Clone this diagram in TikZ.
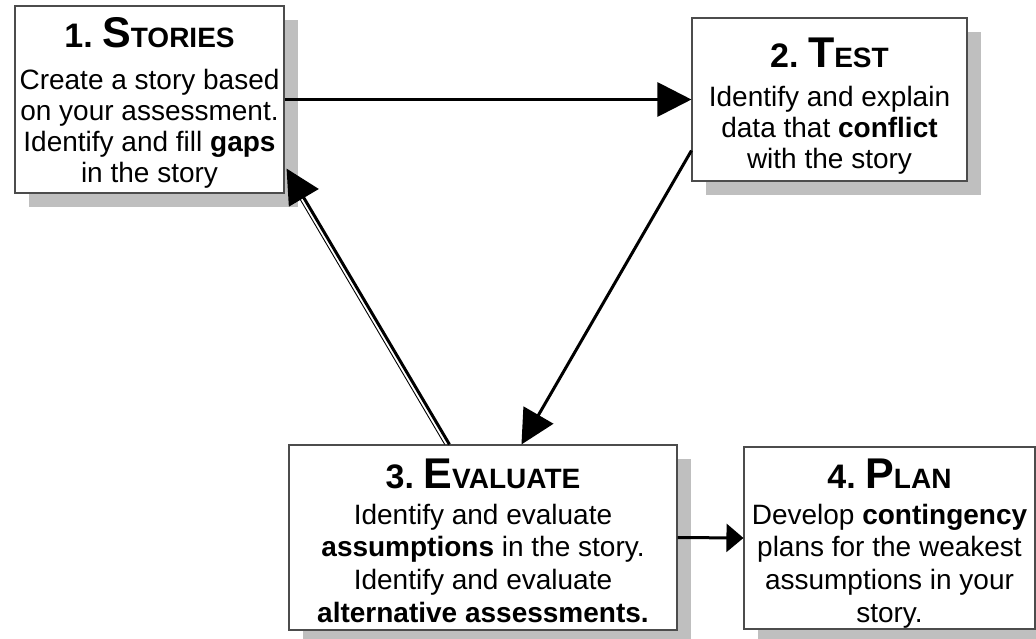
\documentclass[tikz,border=0pt]{standalone}
\usepackage{fontspec}
\setmainfont{Liberation Sans}
\usetikzlibrary{arrows.meta,calc,shadows}

\tikzset{
  stagebox/.style={draw=black!70, line width=1.1pt, fill=white, inner sep=0pt,
    drop shadow={shadow xshift=14pt, shadow yshift=-14pt, fill=black!25, opacity=1}},
  bigarrow/.style={line width=3pt, -{Triangle[length=34pt,width=34pt]}},
  smallarrow/.style={line width=3pt, -{Triangle[length=17pt,width=28pt]}},
  thinline/.style={line width=0.9pt},
  titletext/.style={anchor=base, inner sep=0pt, font=\bfseries},
  bodytext/.style={anchor=north, inner sep=0pt, align=center, font=\fontsize{28}{#1}\selectfont},
}
\newcommand{\ttl}[3]{{\fontsize{34}{40}\selectfont #1\ }{\fontsize{43}{48}\selectfont #2}{\fontsize{28}{32}\selectfont #3}}

\begin{document}
\begin{tikzpicture}[x=1pt,y=-1pt]
\useasboundingbox (0,0) rectangle (1036,638);
\fill[white] (0,0) rectangle (1036,638);

% boxes
\node[stagebox, minimum width=269pt, minimum height=187pt] (b1) at (149.5,99.5) {};
\node[stagebox, minimum width=275pt, minimum height=163pt] (b2) at (829.5,99.5) {};
\node[stagebox, minimum width=388pt, minimum height=185pt] (b3) at (483,537.5) {};
\node[stagebox, minimum width=291pt, minimum height=182pt] (b4) at (889.5,538) {};

% texts
\node[titletext] (t1) at (149.5,47) {\ttl{1.}{S}{TORIES}};
\node[bodytext=31pt] (x1) at (149.5,67.3) {\strut Create a story based\\on your assessment.\\Identify and fill \textbf{gaps}\\in the story};

\node[titletext] (t2) at (829.5,67) {\ttl{2.}{T}{EST}};
\node[bodytext=31pt] (x2) at (829.5,84.3) {\strut Identify and explain\\data that \textbf{conflict}\\with the story};

\node[titletext] (t3) at (483,488) {\ttl{3.}{E}{VALUATE}};
\node[bodytext=32.7pt] (x3) at (483,501.1) {\strut Identify and evaluate\\\textbf{assumptions} in the story.\\Identify and evaluate\\\textbf{alternative assessments.}};

\node[titletext] (t4) at (889.5,488) {\ttl{4.}{P}{LAN}};
\node[bodytext=32.7pt] (x4) at (889.5,501.1) {\strut Develop \textbf{contingency}\\plans for the weakest\\assumptions in your\\story.};

% connector end points
\coordinate (p21) at ($(b2.south west)+(0,-31)$);
\coordinate (p23) at ($(b3.north west)+(233,0)$);
\coordinate (p31) at ($(b3.north west)+(161,0)$);
\coordinate (p13) at ($(b1.south east)+(2,-25)$);

% connectors
\draw[bigarrow] (b1.east) -- (b2.west);
\draw[bigarrow] (p21) -- (p23);
\draw[bigarrow] (p31) -- (p13);
\draw[thinline] ($(p31)+(-4.7,0)$) -- ($($(p13)!0.1!(p31)$)+(-3.4,2)$);
\draw[smallarrow] (b3.east) -- (b4.west);
\end{tikzpicture}
\end{document}
